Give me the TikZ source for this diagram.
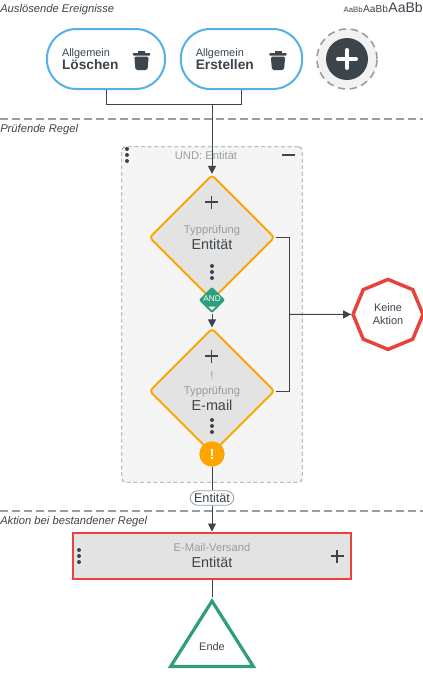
\documentclass[tikz,border=0pt]{standalone}
\usepackage{fontspec}
\setmainfont{Liberation Sans}
\usetikzlibrary{arrows.meta,shapes.geometric}

\definecolor{inkdark}{HTML}{3C444C}
\definecolor{inkgray}{HTML}{979DA3}
\definecolor{pillblue}{HTML}{55B0E6}
\definecolor{warnorange}{HTML}{FFA500}
\definecolor{stopred}{HTML}{E8433A}
\definecolor{endgreen}{HTML}{2F9E7E}
\definecolor{boxgray}{HTML}{E3E3E3}

\newcommand{\subline}[1]{{\fontsize{8.4}{10}\selectfont\color{inkgray}#1}}
\newcommand{\nameline}[1]{{\fontsize{10.8}{12}\selectfont #1}}

\tikzset{
  section/.style={font=\fontsize{8.4}{9}\selectfont\itshape, text=inkdark, anchor=west, inner sep=0pt},
  divider/.style={draw=inkgray, line width=1.1pt, dash pattern=on 6pt off 3pt},
  link/.style={draw=inkdark, line width=0.72pt},
  triggerbox/.style={draw=pillblue, line width=1.5pt, fill=white, rounded corners=22pt, minimum width=88.5pt, minimum height=45pt,
    text width=66pt, inner xsep=11.25pt, inner ysep=0pt, align=left, text=inkdark, font=\fontsize{8.2}{11}\selectfont},
  checkbox/.style={diamond, draw=warnorange, line width=1.4pt, fill=boxgray, rounded corners=2.5pt, minimum width=94pt, minimum height=94pt,
    inner sep=0pt, align=center, text=inkdark},
  plusmark/.pic={\draw[inkdark, line width=1.3pt] (-6.5,0) -- (6.5,0) (0,-6.5) -- (0,6.5);},
  dotmark/.pic={\fill[inkdark] (0,-6) circle (2) (0,0) circle (2) (0,6) circle (2);},
  trashmark/.pic={
    \fill[inkdark, rounded corners=0.6pt] (-8.7,-6.5) rectangle (8.7,-4);
    \fill[inkdark] (-3.5,-8.5) rectangle (3.5,-6);
    \fill[inkdark, rounded corners=1.2pt] (-7.2,-3) -- (7.2,-3) -- (6,10.5) -- (-6,10.5) -- cycle;
  },
}

\begin{document}
\begin{tikzpicture}[x=0.75pt, y=-0.75pt, >={Stealth[inset=0pt,length=6pt,width=6pt]}]
  \useasboundingbox (0,0) rectangle (423,675);

  % sections
  \draw[divider] (0,119) -- (423,119);
  \draw[divider] (0,511) -- (423,511);
  \node[section] (sec1) at (0,9.5) {Auslösende Ereignisse};
  \node[section] (sec2) at (0,129.5) {Prüfende Regel};
  \node[section] (sec3) at (0,521.5) {Aktion bei bestandener Regel};

  \node[anchor=base east, inner sep=0pt, text=inkdark, font=\fontsize{10.5}{12}\selectfont] (fontbig) at (423,12.5) {AaBb};
  \node[anchor=base east, inner sep=0pt, text=inkdark, font=\fontsize{7.6}{10}\selectfont] (fontmid) at (fontbig.base west) {AaBb};
  \node[anchor=base east, inner sep=0pt, text=inkdark, font=\fontsize{5.8}{8}\selectfont] (fontsmall) at (fontmid.base west) {AaBb};

  % triggers
  \node[triggerbox] (del) at (106,59) {Allgemein\\[-1pt]\nameline{\fontsize{10.3}{12}\selectfont\bfseries Löschen}};
  \node[triggerbox, minimum width=91pt, text width=68.5pt] (add) at (241.5,59) {Allgemein\\[-1pt]\nameline{\fontsize{10.3}{12}\selectfont\bfseries Erstellen}};
  \pic at (141.5,59.5) {trashmark};
  \pic at (278,59.5) {trashmark};
  \node[circle, draw=inkgray, line width=1.2pt, dash pattern=on 5.5pt off 3.5pt, fill=black!5, minimum size=45pt, inner sep=0pt] (addring) at (347,59) {};
  \node[circle, fill=inkdark, minimum size=31.5pt, inner sep=0pt] (addbtn) at (347,59) {};
  \draw[white, line width=3pt, line cap=round] (338,59) -- (356,59) (347,50) -- (347,68);

  % rule group
  \node[draw=inkgray, line width=0.6pt, densely dashed, fill=black!4, rounded corners=3pt, minimum width=135.5pt, minimum height=251.5pt] (group) at (212,314.5) {};
  \node[text=inkgray, font=\fontsize{8.4}{10}\selectfont, inner sep=0pt] (grouptitle) at (206,155) {UND: Entität};
  \pic at (127,155) {dotmark};
  \draw[inkdark, line width=1.3pt] (282,155) -- (294.5,155);

  \node[checkbox] (check1) at (212,237.5) {\subline{Typprüfung}\\\nameline{Entität}};
  \pic at (211.5,202) {plusmark};
  \pic at (212,272) {dotmark};
  \node[checkbox] (check2) at (212,391) {\subline{!}\\[-1pt]\subline{Typprüfung}\\\nameline{E-mail}};
  \pic at (211.5,356) {plusmark};
  \pic at (212,426) {dotmark};

  \node[diamond, fill=endgreen, rounded corners=1.5pt, minimum width=20pt, minimum height=20pt, inner sep=0pt] (and) at (212,300) {};
  \node[text=white, font=\fontsize{6.2}{7}\selectfont, inner sep=0pt] (andtext) at (212,299) {AND};
  \fill[white] (208.5,306.5) -- (215.5,306.5) -- (212,310) -- cycle;
  \node[circle, fill=warnorange, minimum size=19pt, inner sep=0pt, text=white, font=\fontsize{11}{12}\selectfont\bfseries] (warn) at (212,454) {!};

  % outcomes
  \node[regular polygon, regular polygon sides=8, shape border rotate=22.5, draw=stopred, line width=2.6pt, fill=white, minimum size=52.5pt,
    inner sep=0pt, align=center, text=inkdark, font=\fontsize{8.2}{10}\selectfont] (noaction) at (388,314.4) {Keine\\Aktion};
  \node[draw=inkgray, line width=0.6pt, fill=white, rounded corners=6pt, inner xsep=3pt, inner ysep=2pt, text=inkdark, font=\fontsize{9.5}{10}\selectfont] (objtag) at (212,498) {Entität};
  \node[draw=stopred, line width=1.5pt, fill=boxgray, minimum width=208pt, minimum height=34.5pt, inner sep=0pt, align=center, text=inkdark] (mail) at (212,555.5) {\subline{E-Mail-Versand}\\\nameline{Entität}};
  \pic at (79,556) {dotmark};
  \pic at (337,556) {plusmark};
  \node[isosceles triangle, isosceles triangle stretches, shape border rotate=90, draw=endgreen, line width=2.4pt, fill=white, minimum width=62pt, minimum height=49pt,
    inner sep=0pt, anchor=lower side, text=inkdark, font=\fontsize{8.2}{10}\selectfont] (ende) at (212,668) {\raisebox{3.2pt}{Ende}};

  % connectors
  \coordinate (join) at (212,104);
  \coordinate (merge) at (289.5,314.4);
  \draw[link] (del.south) |- (join);
  \draw[link] (add.south) |- (join);
  \draw[link, ->] (join) -- (check1.north);
  \draw[link, ->] (and.south) -- (check2.north);
  \draw[link, shorten <=0.5pt] (check1.east) -| (merge);
  \draw[link, shorten <=0.5pt] (check2.east) -| (merge);
  \draw[link, ->] (merge) -- (noaction.west);
  \draw[link] (warn.south) -- (objtag.north);
  \draw[link, ->] (objtag.south) -- (mail.north);
  \draw[link] (mail.south) -- (ende.apex);
\end{tikzpicture}
\end{document}
